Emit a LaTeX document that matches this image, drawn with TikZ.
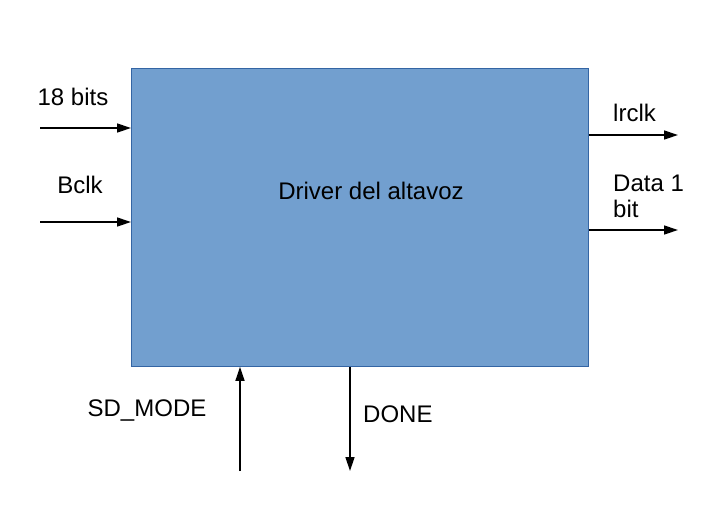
\documentclass[tikz,border=0pt]{standalone}
\usepackage{fontspec}
\setmainfont{Liberation Sans}
\usetikzlibrary{arrows.meta}
\definecolor{boxfill}{HTML}{729FCF}
\definecolor{boxline}{HTML}{3465A4}
\tikzset{
  sig/.style={line width=1.4pt,-{Triangle[length=14pt,width=9pt]}},
  lbl/.style={font=\fontsize{24}{26}\selectfont,inner sep=0pt},
}
\begin{document}
\begin{tikzpicture}[x=1pt,y=-1pt]
\useasboundingbox (0,0) rectangle (710,523);
\node[draw=boxline,fill=boxfill,line width=0.8pt,minimum width=457pt,minimum height=298pt,anchor=north west,inner sep=0pt] (drv) at (131,68) {};
\node[lbl] (title) at (371,191) {Driver del altavoz};
% left inputs
\coordinate (in1) at (40,128);
\coordinate (in2) at (40,222);
\draw[sig] (in1) -- (in1 -| drv.west);
\draw[sig] (in2) -- (in2 -| drv.west);
\node[lbl] (l18) at (73,97) {18 bits};
\node[lbl] (lbclk) at (80,185) {Bclk};
% right outputs
\coordinate (out1) at (678,135);
\coordinate (out2) at (678,230);
\draw[sig] (out1 -| drv.east) -- (out1);
\draw[sig] (out2 -| drv.east) -- (out2);
\node[lbl,anchor=west] (llr) at (613,113) {lrclk};
\node[lbl,anchor=west,align=left] (ldata) at (613,196) {Data 1\\bit};
% bottom
\coordinate (sd) at (240,471);
\coordinate (dn) at (350,471);
\draw[sig] (sd) -- (sd |- drv.south);
\draw[sig] (dn |- drv.south) -- (dn);
\node[lbl] (lsd) at (147,410) {SD\_MODE};
\node[lbl,anchor=west] (ldone) at (363,414) {DONE};
\end{tikzpicture}
\end{document}
